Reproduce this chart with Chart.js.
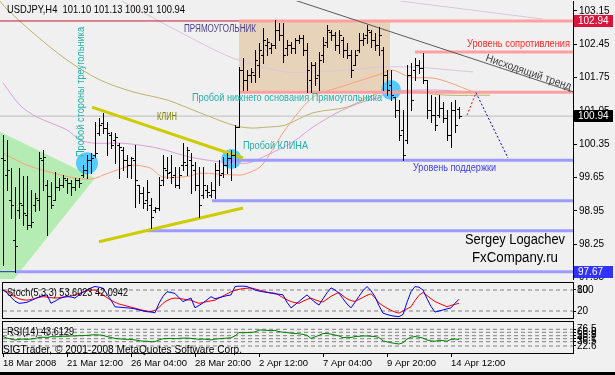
<!DOCTYPE html>
<html>
<head>
<meta charset="utf-8">
<script src="https://cdn.jsdelivr.net/npm/chart.js@4.4.1/dist/chart.umd.min.js"></script>
<style>
  html, body { margin: 0; padding: 0; background: #f0f0f0; }
  #wrap { position: relative; width: 615px; height: 375px; overflow: hidden; background: #f0f0f0; }
  .pane { position: absolute; left: 0; }
  canvas { display: block; }
  #bottomBar { position: absolute; left: 0; top: 372px; width: 615px; height: 3px; background: #000; }
</style>
</head>
<body>
<div id="wrap">
  <div class="pane" style="top:0"><canvas id="main" width="615" height="280"></canvas></div>
  <div class="pane" style="top:281px"><canvas id="stoch" width="615" height="39"></canvas></div>
  <div class="pane" style="top:320px"><canvas id="rsi" width="615" height="52"></canvas></div>
  <div id="bottomBar"></div>
</div>
<script>
// USDJPY H4 bars
const opens = [
  100.06, 99.70, 99.18, 98.34, 98.97, 99.07, 98.86, 98.65, 99.07, 99.18,
  100.02, 99.49, 99.26, 99.18, 99.45, 99.49, 99.60, 99.53, 99.45, 99.60,
  99.70, 99.81, 100.02, 100.12, 100.58, 100.80, 100.69, 100.54, 100.44, 100.33,
  100.23, 100.02, 99.91, 100.02, 99.49, 99.32, 99.18, 99.07, 98.97, 99.01,
  99.60, 99.81, 99.76, 99.70, 99.49, 99.91, 99.91, 100.02, 99.81, 99.49,
  99.28, 99.39, 99.28, 99.39, 99.81, 99.74, 99.91, 100.06, 100.12, 100.71,
  101.91, 101.70, 101.80, 101.80, 102.02, 102.23, 102.44, 102.37, 102.44, 102.75,
  102.65, 102.37, 102.44, 102.37, 102.54, 102.58, 102.33, 101.70, 102.02, 101.80,
  102.23, 102.50, 102.71, 102.65, 102.44, 102.54, 102.33, 102.23, 102.02, 102.33,
  102.54, 102.65, 102.71, 102.54, 102.44, 102.33, 101.80, 101.59, 101.34, 101.07,
  100.65, 100.44, 101.80, 101.91, 102.02, 101.95, 101.70, 101.07, 100.96, 100.96,
  101.11, 100.90, 100.54, 101.07, 101.10
];
const highs = [
  100.54, 100.44, 99.85, 99.45, 99.85, 99.68, 99.68, 99.39, 99.32, 100.19,
  100.23, 99.60, 99.55, 99.76, 99.64, 99.70, 99.64, 99.60, 99.64, 99.64,
  99.91, 100.12, 100.16, 100.82, 100.90, 101.01, 100.82, 100.61, 100.58, 100.37,
  100.29, 100.12, 100.08, 100.33, 99.49, 99.45, 99.60, 99.22, 99.03, 99.66,
  100.12, 100.08, 100.12, 99.87, 99.87, 100.37, 100.29, 100.16, 99.98, 99.87,
  99.87, 99.49, 99.55, 99.95, 100.02, 100.08, 100.16, 100.23, 100.75, 101.97,
  102.16, 101.91, 101.95, 102.33, 102.48, 102.79, 102.58, 102.48, 102.96, 102.90,
  102.90, 102.54, 102.50, 102.58, 102.65, 102.65, 102.48, 102.08, 102.08, 102.29,
  102.60, 102.86, 102.75, 102.71, 102.75, 102.60, 102.48, 102.33, 102.33, 102.69,
  102.69, 102.86, 102.75, 102.69, 102.81, 102.39, 101.91, 101.91, 101.34, 101.28,
  101.07, 102.02, 102.06, 102.16, 102.12, 102.27, 101.70, 101.38, 101.34, 101.38,
  101.24, 101.07, 101.24, 101.28, 101.13
];
const lows = [
  97.81, 99.39, 98.80, 97.66, 98.80, 98.65, 98.57, 98.61, 98.95, 98.97,
  99.39, 98.44, 99.01, 99.18, 99.39, 99.45, 99.32, 99.28, 99.39, 99.45,
  99.66, 99.64, 99.74, 100.08, 100.54, 100.58, 100.12, 100.27, 99.95, 99.64,
  99.81, 99.66, 99.64, 99.03, 99.11, 99.01, 98.97, 98.59, 98.93, 98.97,
  99.49, 99.64, 99.53, 99.45, 99.43, 99.81, 99.70, 99.32, 99.39, 98.82,
  99.22, 99.24, 99.24, 99.22, 99.49, 99.66, 99.74, 99.60, 99.87, 100.71,
  101.49, 101.49, 101.66, 101.66, 101.76, 102.06, 102.23, 102.27, 102.37, 102.54,
  102.08, 102.23, 102.27, 102.27, 102.48, 102.23, 101.45, 101.45, 101.59, 101.49,
  102.08, 102.39, 102.54, 102.33, 102.27, 102.18, 102.16, 101.76, 102.02, 102.29,
  102.44, 102.48, 102.39, 102.33, 102.23, 101.49, 101.38, 101.28, 100.92, 100.44,
  100.02, 100.37, 101.07, 101.70, 101.85, 101.64, 100.90, 100.82, 100.65, 100.92,
  100.82, 100.44, 100.29, 100.61, 100.91
];
const closes = [
  100.02, 99.81, 99.07, 98.21, 99.11, 98.90, 98.65, 98.72, 99.22, 100.06,
  100.08, 99.26, 99.07, 99.45, 99.49, 99.64, 99.53, 99.45, 99.60, 99.53,
  99.81, 100.02, 100.06, 100.16, 100.75, 100.69, 100.58, 100.33, 100.50, 100.29,
  100.02, 99.91, 100.06, 99.60, 99.32, 99.11, 99.35, 98.82, 99.01, 99.49,
  99.85, 99.74, 99.66, 99.49, 99.70, 99.98, 100.23, 99.91, 99.49, 99.07,
  99.49, 99.35, 99.39, 99.81, 99.70, 99.91, 100.06, 100.12, 100.71, 101.91,
  101.70, 101.80, 101.87, 102.12, 102.33, 102.54, 102.50, 102.44, 102.75, 102.65,
  102.23, 102.44, 102.37, 102.54, 102.58, 102.33, 101.91, 102.02, 101.74, 102.12,
  102.44, 102.75, 102.65, 102.44, 102.65, 102.33, 102.23, 101.91, 102.23, 102.54,
  102.58, 102.75, 102.54, 102.44, 102.65, 101.80, 101.49, 101.38, 101.07, 100.54,
  100.12, 101.80, 101.28, 102.02, 101.95, 101.70, 101.07, 100.96, 100.75, 101.11,
  100.90, 100.54, 101.07, 100.75, 100.94
];

// Stochastic(5,3,3) and RSI(14), one value per bar
const stochK = [
  80, 72, 60, 48, 42, 43, 45, 50, 55, 60,
  64, 66, 42, 48, 55, 59, 61, 60, 57, 66,
  74, 80, 86, 90, 88, 85, 68, 51, 32, 31,
  30, 29, 28, 26, 23, 20, 18, 17, 15, 42,
  62, 75, 73, 70, 58, 47, 52, 57, 29, 36,
  43, 52, 61, 55, 58, 61, 64, 66, 90, 91,
  91, 90, 85, 80, 77, 75, 73, 71, 69, 68,
  66, 45, 29, 38, 47, 57, 66, 55, 45, 37,
  55, 72, 86, 80, 71, 55, 40, 29, 45, 62,
  78, 90, 78, 61, 35, 14, 10, 7, 5, 4,
  10, 45, 75, 90, 88, 80, 55, 33, 17, 20,
  23, 26, 29, 42, 53.6
];
const stochD = [
  80, 75, 68, 60, 55, 52, 51, 53, 56, 59,
  61, 60, 58, 57, 58, 60, 61, 63, 66, 70,
  74, 78, 80, 80, 74, 66, 58, 51, 45, 40,
  37, 34, 31, 28, 25, 22, 20, 18, 22, 30,
  42, 50, 55, 57, 56, 54, 52, 51, 46, 42,
  44, 47, 49, 51, 57, 63, 69, 75, 79, 82,
  84, 85, 86, 83, 80, 77, 74, 72, 71, 65,
  58, 52, 47, 44, 42, 48, 53, 57, 52, 48,
  46, 54, 62, 68, 73, 63, 55, 50, 47, 53,
  59, 65, 69, 58, 43, 35, 28, 22, 17, 14,
  20, 26, 32, 50, 65, 73, 64, 55, 47, 42,
  37, 32, 36, 39, 42.09
];
const rsi = [
  53, 48, 45, 42, 44, 45, 44, 45, 47, 50,
  51, 49, 53, 52, 53, 54, 54, 55, 55, 56,
  56, 57, 58, 59, 58, 57, 53, 50, 47, 46,
  45, 44, 44, 42, 40, 38, 38, 36, 37, 42,
  46, 47, 47, 46, 47, 48, 48, 47, 46, 44,
  45, 44, 42, 45, 46, 47, 48, 49, 55, 66,
  65, 66, 66, 68, 74, 74, 73, 72, 73, 69,
  67, 66, 64, 63, 62, 60, 57, 47, 52, 57,
  63, 63, 61, 58, 55, 49, 51, 50, 53, 54,
  55, 55, 54, 53, 50, 39, 36, 33, 31, 29,
  33, 45, 51, 53, 51, 48, 42, 39, 38, 41,
  40, 38, 44, 45, 43.61
];

// moving averages, sampled at a few bars: [bar, price]
const maSalmon = [[0,100.16],[6,99.91],[11.75,99.76],[18,99.64],[22.5,99.62],[25,99.70],[30,99.85],[32.5,99.91],[36.75,99.85],[40,99.66],[46.75,99.68],[49.25,99.74],[59.25,99.70],[61.75,99.76],[64.25,99.87],[66.25,100.08],[70.5,100.65],[77.5,101.34],[84.25,101.55],[94.25,101.82],[97.25,101.91],[101.75,101.76],[107.5,101.74],[111.75,101.64],[117.5,101.45]];
const maPlum = [[0,101.64],[4.25,101.17],[8.5,100.92],[16,100.65],[19.25,100.44],[23,100.37],[30,100.37],[38.5,100.27],[46.75,100.08],[54.25,99.98],[61,99.95],[66,100.12],[72.5,100.40],[77.5,100.71],[83.5,101.01],[89.25,101.22],[94.25,101.34],[96,101.45],[107.5,101.49],[116,101.45]];
const maKhaki = [[-0.75,103.36],[0.5,103.23],[7.5,102.69],[16,102.12],[24.25,101.70],[32.5,101.45],[41,101.28],[49.25,101.01],[57.5,100.75],[61.75,100.69],[66.25,100.71],[70.5,100.75],[77.5,101.01],[86,101.13],[94.25,101.43],[101.75,101.45],[111,101.38],[121.75,101.38]];
const maThistle = [[29.25,103.38],[45.5,102.65],[57.5,102.16],[70.5,101.87],[77.5,101.87],[86,101.91],[94.25,101.97],[103.5,101.97],[111.75,101.91],[117.5,101.87]];
const maThistleTop = [[99.25,103.36],[135,102.98]];

// chart objects: prices and the bar they start from
const pinkLevels = [[102.94, 59], [101.44, 59], [102.29, 103]];
const blueLevels = [[100.01, 56.25], [99.16, 52.25], [98.53, 36.25], [97.67, 3]];
const lastPrice = 100.94;
const rectangle = [[59,102.94],[96.75,102.94],[96.75,101.44],[59,101.44]];
const triangle = [[-0.75,100.61],[23,99.64],[-0.75,97.15]];
const breakouts = [[21,99.95],[57.1,100.04],[97,101.49]];
const wedgeUpper = [[22.25,101.13],[60,100.06]];
const wedgeLower = [[24,98.30],[60,99.01]];
const trendLine = [[70,103.46],[142.5,101.45]];
const forecastUp = [[116,100.96],[118.25,101.43]];
const forecastDown = [[118.25,101.43],[126.25,100.06]];

const priceTicks = [97.55, 98.25, 98.95, 99.65, 100.35, 101.05, 101.75, 102.45, 103.15];
const stochLevels = [20, 80];
const rsiLevels = [22.6, 36.5, 46.1, 55.8, 66.8, 76.5];
const timeTickBars = [0, 16, 32, 48, 64, 80, 96, 112];
const timeTickLabels = ['18 Mar 2008', '21 Mar 12:00', '26 Mar 04:00', '28 Mar 20:00', '2 Apr 12:00', '7 Apr 04:00', '9 Apr 20:00', '14 Apr 12:00'];

const RIGHT = 142.5;
const SANS = '"Liberation Sans", Arial, sans-serif';
Chart.defaults.font.family = SANS;
Chart.defaults.font.size = 10;
Chart.defaults.color = '#000';

const xy = pts => pts.map(([x, y]) => ({ x, y }));
const series = arr => arr.map((y, x) => ({ x, y }));

function line(points, color, width, extra) {
  return Object.assign({
    data: xy(points), borderColor: color, borderWidth: width,
    pointRadius: 0, fill: false, tension: 0
  }, extra || {});
}

// main window datasets, first pushed is drawn first
const mainDatasets = [];
const add = ds => { ds.order = 1000 - mainDatasets.length; mainDatasets.push(ds); return mainDatasets.length - 1; };

add(line(rectangle, 'transparent', 0, { fill: 'shape', backgroundColor: '#e6d3ba' }));
const CIRCLES = add({
  data: xy(breakouts), showLine: false, pointRadius: [11, 10, 10],
  pointBackgroundColor: '#55ccff', pointBorderWidth: 0
});
const TRI = add(line(triangle, 'transparent', 0, { fill: 'shape', backgroundColor: '#bffbbf' }));
add(line(maThistle, '#dcc6dc', 1, { tension: 0.3 }));
add(line(maThistleTop, '#dcc6dc', 1));
add(line(maKhaki, '#bdb36b', 1, { tension: 0.3 }));
add(line(maPlum, '#dd9fdd', 1, { tension: 0.3 }));
add(line(maSalmon, '#ffa07a', 1, { tension: 0.3 }));
add(line([[-0.75, lastPrice], [RIGHT, lastPrice]], '#bcbcbc', 1));
add(line([[-0.75, 102.94], [RIGHT, 102.94]], '#c8143c', 1));
add(line([[-0.75, 97.67], [RIGHT, 97.67]], '#2828c8', 1));
pinkLevels.forEach(([p, from]) => add(line([[from, p], [RIGHT, p]], '#ffa0a0', 3)));
blueLevels.forEach(([p, from]) => add(line([[from, p], [RIGHT, p]], '#9c9cff', 3)));
add(line(trendLine, '#5a5a5a', 1));
add(line(wedgeUpper, '#cccc00', 3));
add(line(wedgeLower, '#cccc00', 3));
add(line(forecastUp, '#ff0000', 1, { borderDash: [2, 2] }));
add(line(forecastDown, '#0000ff', 1, { borderDash: [2, 2] }));

const bgPlugin = {
  id: 'bg',
  beforeDraw(chart) {
    const ctx = chart.ctx;
    ctx.save();
    ctx.fillStyle = '#f0f0f0';
    ctx.fillRect(0, 0, chart.width, chart.height);
    ctx.restore();
  }
};

// the triangle is laid over the circles like the terminal does it
const blendPlugin = {
  id: 'blend',
  afterDatasetDraw(chart, args) {
    if (args.index === CIRCLES) chart.ctx.globalCompositeOperation = 'multiply';
    if (args.index === TRI) chart.ctx.globalCompositeOperation = 'source-over';
  }
};

const ohlcPlugin = {
  id: 'ohlc',
  afterDatasetsDraw(chart) {
    const { ctx, scales: { x, y } } = chart;
    ctx.save();
    ctx.strokeStyle = '#000';
    ctx.lineWidth = 1;
    ctx.beginPath();
    for (let i = 0; i < highs.length; i++) {
      const px = Math.round(x.getPixelForValue(i)) + 0.5;
      const yh = Math.round(y.getPixelForValue(highs[i]));
      const yl = Math.round(y.getPixelForValue(lows[i]));
      const yo = Math.round(y.getPixelForValue(opens[i])) + 0.5;
      const yc = Math.round(y.getPixelForValue(closes[i])) + 0.5;
      ctx.moveTo(px, yh); ctx.lineTo(px, yl + 1);
      ctx.moveTo(px - 2.5, yo); ctx.lineTo(px, yo);
      ctx.moveTo(px, yc); ctx.lineTo(px + 2.5, yc);
    }
    ctx.stroke();
    ctx.restore();
  }
};

function drawTexts(ctx, list) {
  list.forEach(t => {
    ctx.save();
    ctx.font = (t.size || 11) + 'px ' + SANS;
    ctx.fillStyle = t.c;
    ctx.textBaseline = 'middle';
    ctx.textAlign = 'left';
    ctx.translate(t.x, t.y);
    if (t.rot) ctx.rotate(t.rot);
    ctx.fillText(t.t, 0, 0, t.w);
    ctx.restore();
  });
}

const mainTexts = [
  { t: 'USDJPY,H4  101.10 101.13 100.91 100.94', x: 7, y: 10, size: 11, w: 178, c: '#000' },
  { t: 'ПРЯМОУГОЛЬНИК', x: 184, y: 29, size: 10, w: 72, c: '#483d8b' },
  { t: 'Пробой стороны треугольника', x: 81, y: 157, size: 11, w: 130, c: '#20b2aa', rot: -Math.PI / 2 },
  { t: 'КЛИН', x: 157, y: 117, size: 10, w: 20, c: '#808000' },
  { t: 'Пробой нижнего основания Прямоугольника', x: 192, y: 98, size: 11, w: 190, c: '#20b2aa' },
  { t: 'Пробой КЛИНА', x: 243, y: 146, size: 11, w: 65, c: '#20b2aa' },
  { t: 'Уровень сопротивления', x: 467, y: 44, size: 11, w: 103, c: '#ff2828' },
  { t: 'Нисходящий тренд', x: 486, y: 58, size: 11, w: 90, c: '#404040', rot: 0.33 },
  { t: 'Уровень поддержки', x: 413, y: 168, size: 11, w: 83, c: '#3c3cff' },
  { t: 'Sergey Logachev', x: 465, y: 240, size: 14, w: 100, c: '#000' },
  { t: 'FxCompany.ru', x: 472, y: 258, size: 14, w: 86, c: '#000' }
];

const mainTextPlugin = {
  id: 'mainText',
  afterDatasetsDraw(chart) { drawTexts(chart.ctx, mainTexts); },
  afterDraw(chart) {
    const { ctx, scales: { y } } = chart;
    [[102.94, '#dc143c'], [lastPrice, '#000000'], [97.67, '#3232ff']].forEach(([p, bg]) => {
      const py = Math.round(y.getPixelForValue(p));
      ctx.fillStyle = bg;
      ctx.fillRect(574, py - 6, 39, 12);
      ctx.fillStyle = '#fff';
      ctx.font = '10px ' + SANS;
      ctx.textBaseline = 'middle';
      ctx.fillText(p.toFixed(2), 578, py, 31);
    });
  }
};

const framePlugin = {
  id: 'frame',
  afterDraw(chart) {
    const { ctx, chartArea: a } = chart;
    ctx.save();
    ctx.strokeStyle = '#000';
    ctx.lineWidth = 1;
    ctx.strokeRect(a.left - 0.5, a.top - 0.5, a.right - a.left + 1, a.bottom - a.top + 1);
    ctx.restore();
  }
};

function fixWidth(s) { s.width = 42; s.paddingTop = 0; s.paddingBottom = 0; }
const noPlugins = { legend: { display: false }, tooltip: { enabled: false } };

new Chart(document.getElementById('main'), {
  type: 'line',
  data: { datasets: mainDatasets },
  options: {
    responsive: false, animation: false, events: [],
    layout: { autoPadding: false, padding: { left: 0, right: 0, top: 1, bottom: 1 } },
    plugins: noPlugins,
    scales: {
      x: { type: 'linear', min: -0.75, max: RIGHT, display: false },
      y: {
        type: 'linear', position: 'right', min: 97.516, max: 103.36,
        afterBuildTicks: s => { s.ticks = priceTicks.map(v => ({ value: v })); },
        afterFit: fixWidth,
        ticks: { padding: 2, autoSkip: false, callback: v => v.toFixed(2) },
        grid: { drawOnChartArea: false, tickLength: 4, color: '#000' },
        border: { color: '#000' }
      }
    }
  },
  plugins: [bgPlugin, blendPlugin, ohlcPlugin, mainTextPlugin]
});

// Stochastic window
new Chart(document.getElementById('stoch'), {
  type: 'line',
  data: {
    datasets: [
      { data: series(stochK), borderColor: '#0000ff', borderWidth: 1, pointRadius: 0 },
      { data: series(stochD), borderColor: '#ff0000', borderWidth: 1, pointRadius: 0 },
      ...stochLevels.map(v => line([[0, v], [RIGHT, v]], '#808080', 1, { borderDash: [4, 3] }))
    ]
  },
  options: {
    responsive: false, animation: false, events: [],
    layout: { autoPadding: false, padding: { left: 3, right: 0, top: 2, bottom: 2 } },
    plugins: noPlugins,
    scales: {
      x: { type: 'linear', min: 0, max: RIGHT, display: false },
      y: {
        type: 'linear', position: 'right', min: 0, max: 100,
        afterBuildTicks: s => { s.ticks = [20, 80, 80.001].map(v => ({ value: v })); },
        afterFit: fixWidth,
        ticks: { padding: 1, autoSkip: false, callback: (v, i) => (i === 2 ? '100' : String(v)) },
        grid: { drawOnChartArea: false, tickLength: 3, color: '#000' },
        border: { color: '#000' }
      }
    }
  },
  plugins: [bgPlugin, framePlugin, {
    id: 'stochText',
    afterDatasetsDraw(chart) {
      drawTexts(chart.ctx, [{ t: 'Stoch(5,3,3) 53.6023 42.0942', x: 7, y: 11.5, size: 11, w: 121, c: '#000' }]);
    }
  }]
});

// RSI window with the time axis
new Chart(document.getElementById('rsi'), {
  type: 'line',
  data: {
    datasets: [
      { data: series(rsi), borderColor: '#008000', borderWidth: 1, pointRadius: 0 },
      ...rsiLevels.map(v => line([[0, v], [RIGHT, v]], '#808080', 1, { borderDash: [4, 3] }))
    ]
  },
  options: {
    responsive: false, animation: false, events: [],
    layout: { autoPadding: false, padding: { left: 3, right: 0, top: 2, bottom: 0 } },
    plugins: noPlugins,
    scales: {
      x: {
        type: 'linear', min: 0, max: RIGHT, position: 'bottom',
        afterBuildTicks: s => { s.ticks = timeTickBars.map(v => ({ value: v })); },
        afterFit: s => { s.height = 19; s.paddingLeft = 0; s.paddingRight = 0; },
        ticks: { align: 'start', padding: 1, autoSkip: false, maxRotation: 0, font: { size: 9.5 }, callback: (v, i) => timeTickLabels[i] },
        grid: { drawOnChartArea: false, tickLength: 4, color: '#000' },
        border: { display: false }
      },
      y: {
        type: 'linear', position: 'right', min: 0, max: 100,
        afterBuildTicks: s => { s.ticks = rsiLevels.map(v => ({ value: v })); },
        afterFit: fixWidth,
        ticks: { padding: 1, autoSkip: false, callback: v => v.toFixed(1) },
        grid: { drawOnChartArea: false, tickLength: 3, color: '#000' },
        border: { color: '#000' }
      }
    }
  },
  plugins: [bgPlugin, framePlugin, {
    id: 'rsiText',
    afterDatasetsDraw(chart) {
      drawTexts(chart.ctx, [
        { t: 'RSI(14) 43.6129', x: 7, y: 11.5, size: 11, w: 67, c: '#000' },
        { t: 'SIGTrader, © 2001-2008 MetaQuotes Software Corp.', x: 3, y: 30, size: 11, w: 239, c: '#000' }
      ]);
    }
  }]
});
</script>
</body>
</html>
